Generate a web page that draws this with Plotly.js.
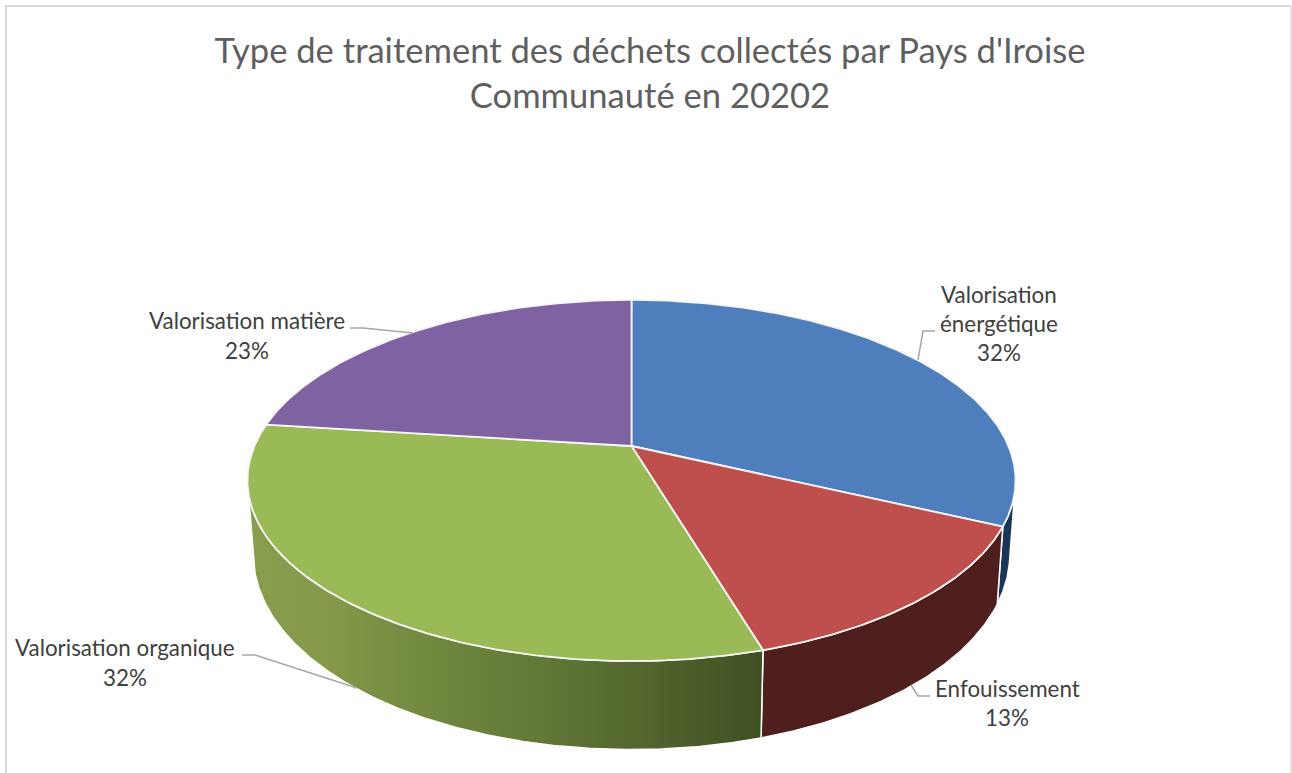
<!DOCTYPE html>
<html><head><meta charset="utf-8">
<script src="https://cdn.plot.ly/plotly-3.0.1.min.js"></script>
<style>html,body{margin:0;padding:0;background:#fff;overflow:hidden}</style></head>
<body><div id="chart" style="width:1292px;height:773px"></div>
<script>
// Data
const categories = ["Valorisation énergétique","Enfouissement","Valorisation organique","Valorisation matière"];
const values = [32.0, 13.4, 31.6, 23.0];
const labelLines = [["Valorisation","énergétique"],["Enfouissement"],["Valorisation organique"],["Valorisation matière"]];
const topColors = ["#4e7fbc","#bf4f4c","#9aba58","#7f62a1"];
const sideColors = ["#1a3557","#4e1f1c","#5f7534","#4d3d63"];
const greenSideScale = [[0,"#889d4d"],[0.15,"#84994a"],[0.3,"#758c42"],[0.55,"#637a37"],[0.8,"#50632c"],[1,"#3f5022"]];

// Projection of the pie disc (page-pixel axis units)
const view = {cx:631.5, cy:446, A:377, B:174, k:0.191, sx:0.985, d0:69.5, d1:19, rimFrom:101, rimTo:259};
const labelAnchors = [{x:999,y:[294,323,352]},{x:1007,y:[688,717]},{x:125,y:[647,677]},{x:247,y:[320,350]}];
const leaders = [
  {x:[918,923,935],y:[360,331,331]},
  {x:[911,918,930],y:[685,696,696]},
  {x:[357,255,242],y:[688,655,655]},
  {x:[413,363,350],y:[333,328,328]}
];

function topPt(deg){
  const t=deg*Math.PI/180,u=Math.sin(t),v=Math.cos(t),w=1+view.k*v;
  return [view.cx+view.A*u/w, view.cy-view.B*v/w];
}
function botPt(deg){
  const p=topPt(deg),v=Math.cos(deg*Math.PI/180);
  return [view.cx+(p[0]-view.cx)*view.sx, p[1]+view.d0-view.d1*v];
}
function arc(fn,a,b){
  const n=Math.max(2,Math.ceil(Math.abs(b-a)*2)),o=[];
  for(let i=0;i<=n;i++)o.push(fn(a+(b-a)*i/n));
  return o;
}
const total=values.reduce((s,v)=>s+v,0);
const bounds=[0];values.forEach(v=>bounds.push(bounds[bounds.length-1]+v/total*360));

const traces=[];
function poly(pts,extra){
  traces.push(Object.assign({type:"scatter",mode:"lines",x:pts.map(p=>p[0]),y:pts.map(p=>p[1]),
    fill:"toself",hoverinfo:"skip",showlegend:false},extra));
}
// Side wall: the slices on the viewer's side of the rim
[0,1,2].forEach(i=>{
  const a=Math.max(bounds[i],view.rimFrom),b=Math.min(bounds[i+1],view.rimTo);
  const pts=arc(topPt,a,b).concat(arc(botPt,b,a));
  pts.push(pts[0]);
  const extra={line:{color:"#ffffff",width:1.5},fillcolor:sideColors[i]};
  if(i===2) extra.fillgradient={type:"horizontal",start:250,stop:761,colorscale:greenSideScale};
  poly(pts,extra);
});
// Top face
values.forEach((v,i)=>{
  const pts=[[view.cx,view.cy]].concat(arc(topPt,bounds[i],bounds[i+1]));
  pts.push([view.cx,view.cy]);
  poly(pts,{fillcolor:topColors[i],line:{color:"#f6f6f6",width:1.8},name:categories[i]});
});
// Leader lines
leaders.forEach(l=>traces.push({type:"scatter",mode:"lines",x:l.x,y:l.y,hoverinfo:"skip",showlegend:false,
  line:{color:"#a6a6a6",width:1.5}}));

// Labels
const annotations=[];
values.forEach((v,i)=>{
  const lines=labelLines[i].concat([Math.round(v/total*100)+"%"]);
  lines.forEach((t,j)=>annotations.push({x:labelAnchors[i].x,y:labelAnchors[i].y[j],xref:"x",yref:"y",text:t,showarrow:false,
    xanchor:"center",yanchor:"middle",font:{family:"Lato, sans-serif",size:22.4,color:"#404040"}}));
});

const border="#d9d9d9";
const layout={
  width:1292,height:773,margin:{l:0,r:0,t:0,b:0},paper_bgcolor:"#fff",plot_bgcolor:"#fff",showlegend:false,
  title:{text:"Type de traitement des déchets collectés par Pays d'Iroise<br>Communauté en 20202",
    x:650/1292,xanchor:"center",y:1-63/773,yanchor:"top",font:{family:"Lato, sans-serif",size:34.6,color:"#5f5f5f"}},
  xaxis:{range:[0,1292],visible:false,fixedrange:true},
  yaxis:{range:[773,0],visible:false,fixedrange:true},
  annotations,
  shapes:[
    {type:"line",x0:6,x1:6,y0:6,y1:773,line:{color:border,width:2},layer:"below"},
    {type:"line",x0:5,x1:1291,y0:6,y1:6,line:{color:border,width:2},layer:"below"},
    {type:"line",x0:1291,x1:1291,y0:6,y1:773,line:{color:border,width:1.5},layer:"below"}
  ]
};
Plotly.newPlot("chart",traces,layout,{displayModeBar:false,staticPlot:true});
</script></body></html>
